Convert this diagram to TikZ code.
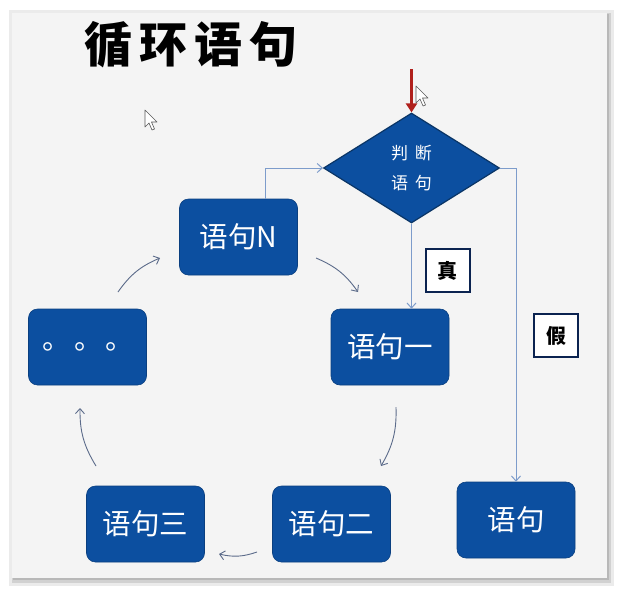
\documentclass[tikz,border=0pt]{standalone}
\usepackage{fontspec}
\setmainfont{Liberation Sans}
\newfontfamily\cjk{Noto Sans CJK SC}
\usetikzlibrary{shapes.geometric,arrows.meta,shadows}
\definecolor{slidebg}{HTML}{F4F4F4}
\definecolor{boxblue}{HTML}{0C4FA0}
\definecolor{boxedge}{HTML}{0A3F80}
\definecolor{diaedge}{HTML}{0A3566}
\definecolor{flowline}{HTML}{7D9CCB}
\definecolor{loopline}{HTML}{5B6B8A}
\definecolor{navy}{HTML}{0B2350}
\definecolor{redarrow}{HTML}{B0201C}
\tikzset{
  stmt/.style={draw=boxedge, line width=0.6pt, fill=boxblue, rounded corners=9pt,
    minimum width=118pt, minimum height=76pt, inner sep=0pt, text=white,
    font=\cjk\fontsize{28.5}{30}\selectfont},
  cond/.style={diamond, draw=diaedge, line width=1.2pt, fill=boxblue, aspect=1.58,
    minimum width=176pt, minimum height=110pt, inner sep=0pt, text=white,
    font=\cjk\fontsize{17}{30}\selectfont, align=center},
  tag/.style={draw=navy, line width=2pt, fill=white, minimum width=44pt,
    minimum height=43pt, inner sep=0pt, font=\cjk\bfseries\fontsize{20}{22}\selectfont},
  flow/.style={draw=flowline, line width=1pt, -{Straight Barb[length=5pt,width=9pt]}},
  loop/.style={draw=loopline, line width=0.9pt, bend left=16, -{Straight Barb[length=5pt,width=9pt]}},
  cursor/.style={fill=white, draw=gray!70!black, line width=0.6pt, line join=round}
}
\begin{document}
\begin{tikzpicture}[x=1pt,y=-1pt]
\useasboundingbox (0,0) rectangle (628,598);
\fill[white] (0,0) rectangle (628,598);
% slide with shadow
\fill[black!8] (9,10) rectangle (614,586);
\fill[black!18] (12,13) rectangle (611,583);
\fill[black!28] (13,14) rectangle (609,580);
\fill[slidebg] (12,13) rectangle (607,578);

% title
\node[font=\cjk\bfseries\fontsize{48}{50}\selectfont] (title) at (191,45)
  {循\hspace{7pt}环\hspace{7pt}语\hspace{7pt}句};

% decision
\node[cond] (dec) at (411.5,168) {判\hspace{7pt}断\\语\hspace{7pt}句};

% statements
\node[stmt] (sN)   at (238.5,237) {语句N};
\node[stmt] (s1)   at (390,347)   {语句一};
\node[stmt] (sdot) at (87.5,347)  {\hspace{2pt}。\hspace{3pt}。\hspace{3pt}。};
\node[stmt] (s3)   at (145.5,524) {语句三};
\node[stmt] (s2)   at (331.5,524) {语句二};
\node[stmt] (sout) at (516,520)   {语句};

% tags
\node[tag] (tT) at (447.5,270.5) {真};
\node[tag] (tF) at (556,335.5)   {假};

% red entry arrow
\coordinate (entry) at (411.5,69);
\draw[redarrow, line width=3pt, -{Triangle[length=9pt,width=11pt]}] (entry) -- (dec.north);

% flow lines
\draw[flow] (dec.south) -- (dec.south |- s1.north);
\draw[flow] (dec.east) -| (sout.north);
\draw[flow] ([xshift=26.5pt]sN.north) |- (dec.west);

% loop arrows
\coordinate (l1a) at (316,258); \coordinate (l1b) at (358,292);
\coordinate (l2a) at (396,407); \coordinate (l2b) at (381,466);
\coordinate (l3a) at (257,552); \coordinate (l3b) at (219,554);
\coordinate (l4a) at (96,466);  \coordinate (l4b) at (80,408);
\coordinate (l5a) at (118,292); \coordinate (l5b) at (160,258);
\draw[loop] (l1a) to (l1b);
\draw[loop] (l2a) to (l2b);
\draw[loop] (l3a) to (l3b);
\draw[loop] (l4a) to (l4b);
\draw[loop] (l5a) to (l5b);

% mouse cursors
\draw[cursor] (145,110) -- ++(0,17) -- ++(4,-4) -- ++(3,7) -- ++(2.5,-1) -- ++(-3,-7) -- ++(5.5,0) -- cycle;
\draw[cursor] (416,86) -- ++(0,17) -- ++(4,-4) -- ++(3,7) -- ++(2.5,-1) -- ++(-3,-7) -- ++(5.5,0) -- cycle;
\end{tikzpicture}
\end{document}
